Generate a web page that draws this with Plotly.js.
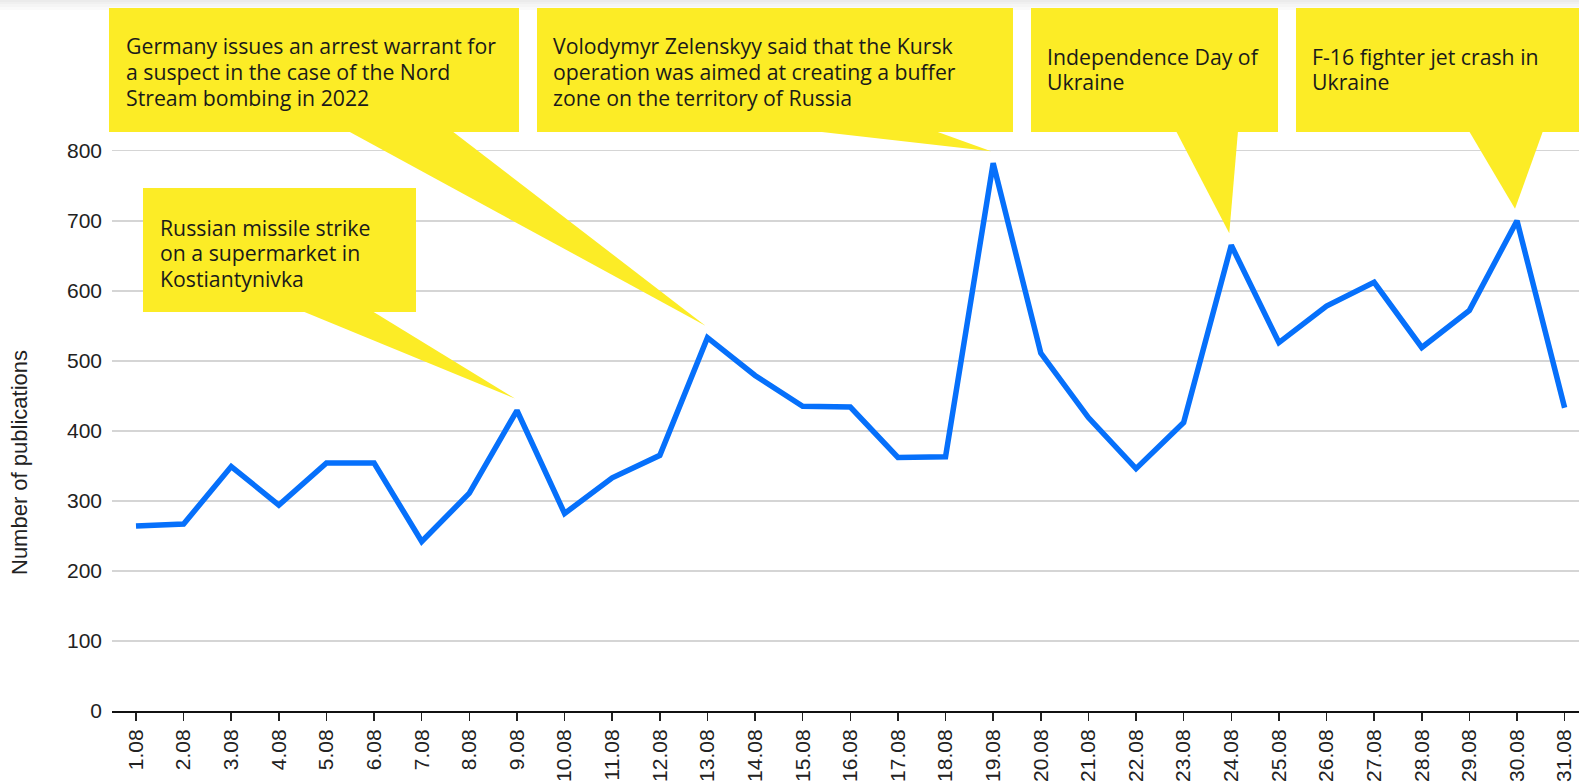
<!DOCTYPE html>
<html>
<head>
<meta charset="utf-8">
<script src="https://cdn.plot.ly/plotly-3.0.1.min.js"></script>
<style>
  html, body { margin: 0; padding: 0; background: #fff; }
  #chart { width: 1579px; height: 784px; }
</style>
</head>
<body>
<div id="chart"></div>
<script>
// ---------------- data ----------------
const dates = ['1.08','2.08','3.08','4.08','5.08','6.08','7.08','8.08','9.08','10.08',
               '11.08','12.08','13.08','14.08','15.08','16.08','17.08','18.08','19.08','20.08',
               '21.08','22.08','23.08','24.08','25.08','26.08','27.08','28.08','29.08','30.08','31.08'];
const publications = [264, 267, 349, 294, 354, 354, 242, 311, 429, 282,
                      333, 365, 533, 479, 435, 434, 362, 363, 782, 511,
                      419, 346, 412, 665, 526, 578, 612, 519, 572, 700, 433];
const yTickValues = [0, 100, 200, 300, 400, 500, 600, 700, 800];
const yTickLabels = ['0', '100', '200', '300', '400', '500', '600', '700', '800'];
const yAxisTitle = 'Number of publications';
const eventDates = ['9.08', '13.08', '19.08', '24.08', '30.08'];
const eventTexts = [
  'Russian missile strike<br>on a supermarket in<br>Kostiantynivka',
  'Germany issues an arrest warrant for<br>a suspect in the case of the Nord<br>Stream bombing in 2022',
  'Volodymyr Zelenskyy said that the Kursk<br>operation was aimed at creating a buffer<br>zone on the territory of Russia',
  'Independence Day of<br>Ukraine',
  'F-16 fighter jet crash in<br>Ukraine'
];

// ---------------- layout geometry ----------------
const W = 1579, H = 784, ML = 112, MR = 0, MT = 0, MB = 73;
const plotW = W - ML - MR, plotH = H - MT - MB;
const xr = [-0.504, 30.302];
const yr = [0, 1015.1];
const px2x = p => xr[0] + (p - ML) / plotW * (xr[1] - xr[0]);
const py2y = p => yr[1] - (p - MT) / plotH * (yr[1] - yr[0]);
const px2paper = p => (p - ML) / plotW;
const py2paper = p => 1 - (p - MT) / plotH;
const pxPerX = plotW / (xr[1] - xr[0]);
const pxPerY = plotH / (yr[1] - yr[0]);

// callout boxes in pixels: [x0, x1, y0, y1], text left + first line centre, tail base [xa, xb]
const callouts = [
  { box: [143, 416, 188, 312], text: [160, 228.6], base: [302, 372] },
  { box: [109, 519, 8, 132],   text: [126, 47.3],  base: [348, 452] },
  { box: [537, 1013, 8, 132],  text: [553, 47.3],  base: [813, 935] },
  { box: [1031, 1278, 8, 132], text: [1047, 57.6], base: [1176, 1238] },
  { box: [1296, 1600, 8, 132], text: [1312, 57.6], base: [1469, 1543] }
];
const YELLOW = '#FCEC26';
const NOTE_FONT = 21.25, NOTE_LINE = 25.6, NOTE_TOP_OFFSET = 17.9;

const xIdx = dates.map((d, i) => i);

const shapes = [];
const annotations = [];

// subtle top shadow
[2, 4, 7, 10].forEach(h => {
  shapes.push({ type: 'rect', xref: 'paper', yref: 'paper', x0: -0.1, x1: 1.1,
    y0: 1, y1: 1 - h / plotH, fillcolor: 'rgba(0,0,0,0.02)', line: { width: 0 }, layer: 'above' });
});

callouts.forEach((c, k) => {
  const i = dates.indexOf(eventDates[k]);
  const v = publications[i];
  const tipX = i - 2 / pxPerX;
  const tipY = v + 12 / pxPerY;
  shapes.push({
    type: 'rect', xref: 'paper', yref: 'paper',
    x0: px2paper(c.box[0]), x1: px2paper(c.box[1]), y0: py2paper(c.box[2]), y1: py2paper(c.box[3]),
    fillcolor: YELLOW, line: { width: 0 }, layer: 'above'
  });
  const by = py2y(c.box[3] - 1);
  shapes.push({
    type: 'path', xref: 'x', yref: 'y',
    path: `M ${px2x(c.base[0])},${by} L ${px2x(c.base[1])},${by} L ${tipX},${tipY} Z`,
    fillcolor: YELLOW, line: { width: 0 }, layer: 'above'
  });
  eventTexts[k].split('<br>').forEach((line, j) => {
    annotations.push({
      xref: 'paper', yref: 'paper',
      x: px2paper(c.text[0] - 2), y: py2paper(c.text[1] + j * NOTE_LINE - NOTE_TOP_OFFSET),
      xanchor: 'left', yanchor: 'top', align: 'left', showarrow: false,
      text: line,
      font: { family: 'Open Sans, sans-serif', size: NOTE_FONT, color: '#1a1a1a' }
    });
  });
});

// y axis title (placed as rotated text to match its vertical position)
annotations.push({
  xref: 'paper', yref: 'paper',
  x: px2paper(20), y: py2paper(462),
  xanchor: 'center', yanchor: 'middle', textangle: -90, showarrow: false,
  text: yAxisTitle,
  font: { family: 'Liberation Sans, Arial, sans-serif', size: 22, color: '#222' }
});

const trace = {
  type: 'scatter', mode: 'lines',
  x: xIdx, y: publications,
  line: { color: '#0670fb', width: 5.5 },
  hoverinfo: 'skip'
};

const layout = {
  width: W, height: H,
  margin: { l: ML, r: MR, t: MT, b: MB, pad: 0 },
  paper_bgcolor: '#ffffff', plot_bgcolor: '#ffffff',
  showlegend: false,
  font: { family: 'Liberation Sans, Arial, sans-serif', color: '#222' },
  xaxis: {
    type: 'linear', range: xr, fixedrange: true,
    tickmode: 'array', tickvals: xIdx, ticktext: dates,
    tickangle: -90,
    ticks: 'outside', ticklen: 8, tickwidth: 1.5, tickcolor: '#222',
    showline: true, linecolor: '#111', linewidth: 2,
    showgrid: false, zeroline: false,
    tickfont: { family: 'Liberation Sans, Arial, sans-serif', size: 21, color: '#222' },
    ticklabelstandoff: 0
  },
  yaxis: {
    type: 'linear', range: yr, fixedrange: true,
    tickmode: 'array', tickvals: yTickValues, ticktext: yTickLabels,
    ticks: '', showline: false, zeroline: false,
    showgrid: true, gridcolor: '#d5d5d5', gridwidth: 1.6,
    tickfont: { family: 'Liberation Sans, Arial, sans-serif', size: 21, color: '#222' },
    ticklabelstandoff: 9
  },
  shapes: shapes,
  annotations: annotations
};

Plotly.newPlot('chart', [trace], layout, { staticPlot: true, displayModeBar: false });
</script>
</body>
</html>
